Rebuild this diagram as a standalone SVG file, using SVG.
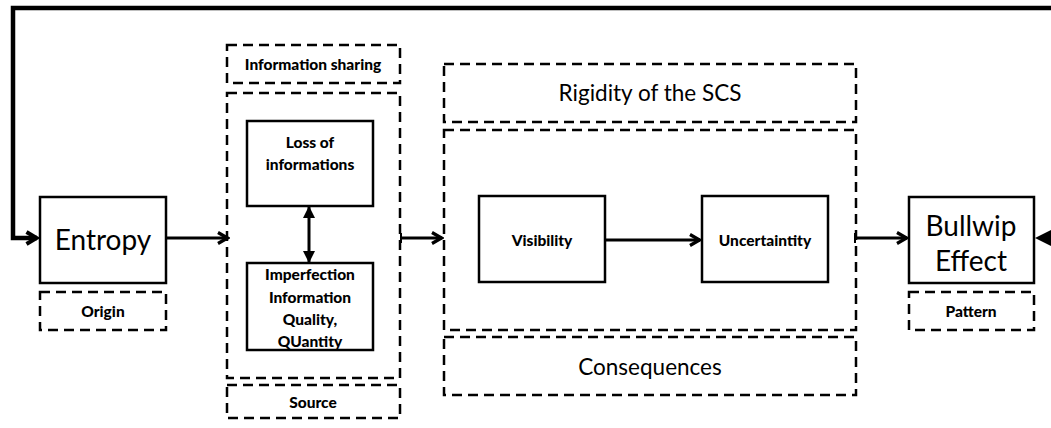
<svg xmlns="http://www.w3.org/2000/svg" width="1051" height="428" viewBox="0 0 1051 428">
<style>
.box{fill:#fff;stroke:#000;stroke-width:2.5}
.dash{fill:none;stroke:#000;stroke-width:2.5;stroke-dasharray:10 6}
.line{fill:none;stroke:#000;stroke-width:3}
.thick{fill:none;stroke:#000;stroke-width:4.5}
text{font-family:Lato,"Liberation Sans",sans-serif;fill:#000;text-anchor:middle}
.big{font-size:28px}
.mid{font-size:22.5px}
.sm{font-size:15.5px;font-weight:900}
</style>
<defs>
<marker id="chev" markerWidth="14" markerHeight="14" refX="12" refY="7" orient="auto" markerUnits="userSpaceOnUse">
<path d="M2,1.5 L11.5,7 L2,12.5" fill="none" stroke="#000" stroke-width="3.2"/>
</marker>
<marker id="chevb" markerWidth="16" markerHeight="16" refX="13" refY="8" orient="auto" markerUnits="userSpaceOnUse">
<path d="M2.5,2 L12.5,8 L2.5,14" fill="none" stroke="#000" stroke-width="4"/>
</marker>
<marker id="tri" markerWidth="12" markerHeight="12" refX="11" refY="6" orient="auto-start-reverse" markerUnits="userSpaceOnUse">
<path d="M0,0 L12,6 L0,12 Z" fill="#000"/>
</marker>
</defs>
<g id="connectors">
<path class="thick" d="M1051,8 H13 V238 H37" marker-end="url(#chevb)"/>
<path class="thick" d="M1051,238 H1045"/>
<path d="M1035,238 L1051,230 L1051,246 Z" fill="#000"/>
<path class="line" d="M166,238 H228" marker-end="url(#chev)"/>
<path class="line" d="M400,238 H442" marker-end="url(#chev)"/>
<path class="line" d="M309,207 V262" marker-start="url(#tri)" marker-end="url(#tri)"/>
<path class="line" d="M605,240 H700" stroke-width="3.5" marker-end="url(#chev)"/>
<path class="line" d="M856,238 H907" marker-end="url(#chev)"/>
<path d="M401,233 V243 M855,233 V243" stroke="#000" stroke-width="2"/>
</g>
<g id="entropy"><rect class="box" x="40" y="197" width="126" height="86"/><text class="big" x="103" y="250">Entropy</text></g>
<g id="origin"><rect class="dash" x="40" y="292" width="126" height="38"/><text class="sm" x="103" y="317">Origin</text></g>
<g id="info-sharing"><rect class="dash" x="227" y="45" width="173" height="38"/><text class="sm" x="313" y="70">Information sharing</text></g>
<g id="source-group"><rect class="dash" x="227" y="93" width="173" height="285"/></g>
<g id="source"><rect class="dash" x="227" y="385" width="173" height="33"/><text class="sm" x="313" y="408">Source</text></g>
<g id="loss"><rect class="box" x="247" y="121" width="126" height="85"/><text class="sm" x="310" y="148">Loss of</text><text class="sm" x="310" y="170">informations</text></g>
<g id="imperfection"><rect class="box" x="247" y="263" width="126" height="87"/><text class="sm" x="310" y="280">Imperfection</text><text class="sm" x="310" y="303">Information</text><text class="sm" x="310" y="325">Quality,</text><text class="sm" x="310" y="347">QUantity</text></g>
<g id="rigidity"><rect class="dash" x="444" y="64" width="412" height="58"/><text class="mid" x="650" y="101">Rigidity of the SCS</text></g>
<g id="consequence-group"><rect class="dash" x="444" y="130" width="412" height="200"/></g>
<g id="consequences"><rect class="dash" x="444" y="337" width="412" height="58"/><text class="mid" x="650" y="375">Consequences</text></g>
<g id="visibility"><rect class="box" x="479" y="196" width="126" height="86"/><text class="sm" x="542" y="246">Visibility</text></g>
<g id="uncertainty"><rect class="box" x="702" y="196" width="126" height="86"/><text class="sm" x="765" y="246">Uncertaintity</text></g>
<g id="bullwip"><rect class="box" x="909" y="197" width="125" height="86"/><text class="big" x="971" y="236">Bullwip</text><text class="big" x="971" y="271">Effect</text></g>
<g id="pattern"><rect class="dash" x="909" y="292" width="125" height="38"/><text class="sm" x="971" y="317">Pattern</text></g>
</svg>
